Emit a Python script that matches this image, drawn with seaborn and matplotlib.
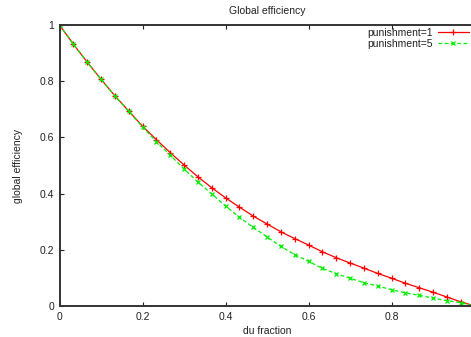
import matplotlib
matplotlib.use("Agg")
import matplotlib.pyplot as plt
import seaborn as sns
import numpy as np
import pandas as pd

du_fraction = [i / 30 for i in range(31)]
eff_p1 = [1.0, 0.932, 0.868, 0.807, 0.748, 0.694, 0.640, 0.592, 0.546, 0.502,
          0.460, 0.421, 0.385, 0.352, 0.320, 0.292, 0.264, 0.240, 0.217, 0.193,
          0.172, 0.153, 0.135, 0.116, 0.099, 0.081, 0.065, 0.049, 0.032, 0.015, 0.0]
eff_p5 = [1.0, 0.932, 0.868, 0.807, 0.748, 0.693, 0.637, 0.585, 0.537, 0.488,
          0.441, 0.399, 0.356, 0.316, 0.280, 0.246, 0.212, 0.183, 0.159, 0.134,
          0.115, 0.099, 0.083, 0.071, 0.058, 0.047, 0.038, 0.028, 0.019, 0.012, 0.0]
series_labels = ["punishment=1", "punishment=5"]
x_ticks = [0, 0.2, 0.4, 0.6, 0.8]
y_ticks = [0, 0.2, 0.4, 0.6, 0.8, 1]

sns.set_style("white")
plt.rcParams['font.family'] = ['Liberation Sans', 'DejaVu Sans']

W, H = 471, 337
fig = plt.figure(figsize=(W / 100, H / 100), dpi=100)
ax = fig.add_axes([59.5 / W, 1 - 306 / H, (474.5 - 59.5) / W, 281 / H])

red, green = "#ff0000", "#00ee00"
sns.lineplot(x=du_fraction, y=eff_p1, color=red, linestyle="-",
             marker="+", markersize=4.5, markeredgewidth=0.9,
             markeredgecolor=red, markerfacecolor=red, linewidth=0.9,
             label=series_labels[0], ax=ax)
sns.lineplot(x=du_fraction, y=eff_p5, color=green, linestyle=(0, (3, 2)),
             marker="x", markersize=3.5, markeredgewidth=0.9,
             markeredgecolor=green, markerfacecolor=green, linewidth=0.9,
             label=series_labels[1], ax=ax)

ax.set_xlim(0, 1)
ax.set_ylim(0, 1)
ax.set_xticks(x_ticks)
ax.set_yticks(y_ticks)
ax.set_xticklabels([f"{v:g}" for v in x_ticks], fontsize=7.5, color="#222222")
ax.set_yticklabels([f"{v:g}" for v in y_ticks], fontsize=7.5, color="#222222")
ax.tick_params(direction="in", length=3, width=0.8, color="#222222",
               top=True, right=True, bottom=True, left=True, pad=4)
for s in ax.spines.values():
    s.set_color("#333333")
    s.set_linewidth(1.4)
    s.set_visible(True)

ax.set_title("Global efficiency", fontsize=7.5, pad=8, color="#222222")
ax.set_xlabel("du fraction", fontsize=7.5, color="#222222", labelpad=3)
ax.set_ylabel("global efficiency", fontsize=7.5, color="#222222", labelpad=12)

leg = ax.legend(loc="upper right", bbox_to_anchor=(469 / W, 1 - 28 / H),
                bbox_transform=fig.transFigure, frameon=False, fontsize=7.5,
                markerfirst=False, handlelength=3.0, handletextpad=0.5,
                labelspacing=0.05, borderpad=0, borderaxespad=0, numpoints=1)
for t in leg.get_texts():
    t.set_color("#222222")

fig.savefig("out.png", dpi=100)
